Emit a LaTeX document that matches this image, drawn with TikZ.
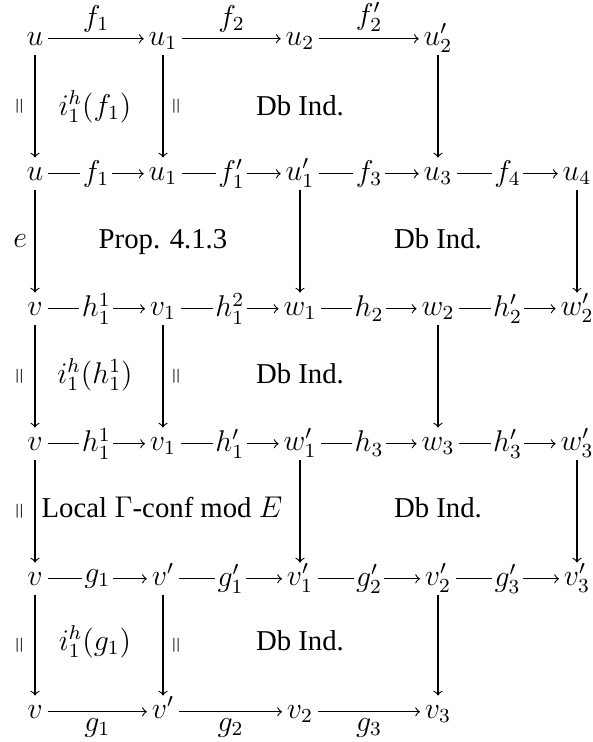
\documentclass[tikz,border=0pt]{standalone}
\usepackage{fontspec}
\setmainfont{Liberation Serif}
\begin{document}
\begin{tikzpicture}[x=0.4pt,y=-0.4pt,
  font=\fontsize{11.5pt}{14pt}\selectfont,
  obj/.style={anchor=base, text height=0.7em, text depth=0.2em, inner sep=1.8pt},
  mor/.style={->, line width=0.45pt},
  dlab/.style={fill=white, inner sep=1pt, anchor=center},
  alab/.style={above, inner sep=2.5pt},
  blab/.style={below, inner sep=2.5pt},
  eqlab/.style={inner sep=4pt},
  face/.style={anchor=base}]
\useasboundingbox (0,0) rectangle (593,742);
% row 1
\node[obj] (a1) at (35,45) {$u$};
\node[obj] (a2) at (163,45) {$u_1$};
\node[obj] (a3) at (300,45) {$u_2$};
\node[obj] (a4) at (438,45) {$u'_2$};
% row 2
\node[obj] (b1) at (35,180) {$u$};
\node[obj] (b2) at (163,180) {$u_1$};
\node[obj] (b3) at (300,180) {$u'_1$};
\node[obj] (b4) at (438,180) {$u_3$};
\node[obj] (b5) at (577,180) {$u_4$};
% row 3
\node[obj] (c1) at (35,315) {$v$};
\node[obj] (c2) at (163,315) {$v_1$};
\node[obj] (c3) at (300,315) {$w_1$};
\node[obj] (c4) at (438,315) {$w_2$};
\node[obj] (c5) at (577,315) {$w'_2$};
% row 4
\node[obj] (d1) at (35,450) {$v$};
\node[obj] (d2) at (163,450) {$v_1$};
\node[obj] (d3) at (300,450) {$w'_1$};
\node[obj] (d4) at (438,450) {$w_3$};
\node[obj] (d5) at (577,450) {$w'_3$};
% row 5
\node[obj] (e1) at (35,585) {$v$};
\node[obj] (e2) at (163,585) {$v'$};
\node[obj] (e3) at (300,585) {$v'_1$};
\node[obj] (e4) at (438,585) {$v'_2$};
\node[obj] (e5) at (577,585) {$v'_3$};
% row 6
\node[obj] (f1) at (35,718) {$v$};
\node[obj] (f2) at (163,718) {$v'$};
\node[obj] (f3) at (300,718) {$v_2$};
\node[obj] (f4) at (438,718) {$v_3$};
% horizontal arrows
\draw[mor] (a1) -- node[alab] {$f_1$} (a2);
\draw[mor] (a2) -- node[alab] {$f_2$} (a3);
\draw[mor] (a3) -- node[alab] {$f'_2$} (a4);
\draw[mor] (b1) -- node[dlab] {$f_1$} (b2);
\draw[mor] (b2) -- node[dlab] {$f'_1$} (b3);
\draw[mor] (b3) -- node[dlab] {$f_3$} (b4);
\draw[mor] (b4) -- node[dlab] {$f_4$} (b5);
\draw[mor] (c1) -- node[dlab] {$h_1^1$} (c2);
\draw[mor] (c2) -- node[dlab] {$h_1^2$} (c3);
\draw[mor] (c3) -- node[dlab] {$h_2$} (c4);
\draw[mor] (c4) -- node[dlab] {$h'_2$} (c5);
\draw[mor] (d1) -- node[dlab] {$h_1^1$} (d2);
\draw[mor] (d2) -- node[dlab] {$h'_1$} (d3);
\draw[mor] (d3) -- node[dlab] {$h_3$} (d4);
\draw[mor] (d4) -- node[dlab] {$h'_3$} (d5);
\draw[mor] (e1) -- node[dlab] {$g_1$} (e2);
\draw[mor] (e2) -- node[dlab] {$g'_1$} (e3);
\draw[mor] (e3) -- node[dlab] {$g'_2$} (e4);
\draw[mor] (e4) -- node[dlab] {$g'_3$} (e5);
\draw[mor] (f1) -- node[blab] {$g_1$} (f2);
\draw[mor] (f2) -- node[blab] {$g_2$} (f3);
\draw[mor] (f3) -- node[blab] {$g_3$} (f4);
% vertical arrows
\draw[mor] (a1) -- node[left, eqlab] {\rotatebox{90}{$\scriptstyle=$}} (b1);
\draw[mor] (a2) -- node[right, eqlab] {\rotatebox{90}{$\scriptstyle=$}} (b2);
\draw[mor] (a4) -- (b4);
\draw[mor] (b1) -- node[left, inner sep=3pt] {$e$} (c1);
\draw[mor] (b3) -- (c3);
\draw[mor] (b5) -- (c5);
\draw[mor] (c1) -- node[left, eqlab] {\rotatebox{90}{$\scriptstyle=$}} (d1);
\draw[mor] (c2) -- node[right, eqlab] {\rotatebox{90}{$\scriptstyle=$}} (d2);
\draw[mor] (c4) -- (d4);
\draw[mor] (d1) -- node[left, eqlab] {\rotatebox{90}{$\scriptstyle=$}} (e1);
\draw[mor] (d3) -- (e3);
\draw[mor] (d5) -- (e5);
\draw[mor] (e1) -- node[left, eqlab] {\rotatebox{90}{$\scriptstyle=$}} (f1);
\draw[mor] (e2) -- node[right, eqlab] {\rotatebox{90}{$\scriptstyle=$}} (f2);
\draw[mor] (e4) -- (f4);
% face labels
\node[face] (l1) at (95,115) {$i_1^h(f_1)$};
\node[face] (l2) at (300,115) {Db Ind.};
\node[face] (l3) at (163,248) {Prop. 4.1.3};
\node[face] (l4) at (438,248) {Db Ind.};
\node[face] (l5) at (95,383) {$i_1^h(h_1^1)$};
\node[face] (l6) at (300,383) {Db Ind.};
\node[face] (l7) at (162,517) {Local $\Gamma$-conf mod $E$};
\node[face] (l8) at (438,517) {Db Ind.};
\node[face] (l9) at (95,650) {$i_1^h(g_1)$};
\node[face] (l10) at (300,650) {Db Ind.};
\end{tikzpicture}
\end{document}
